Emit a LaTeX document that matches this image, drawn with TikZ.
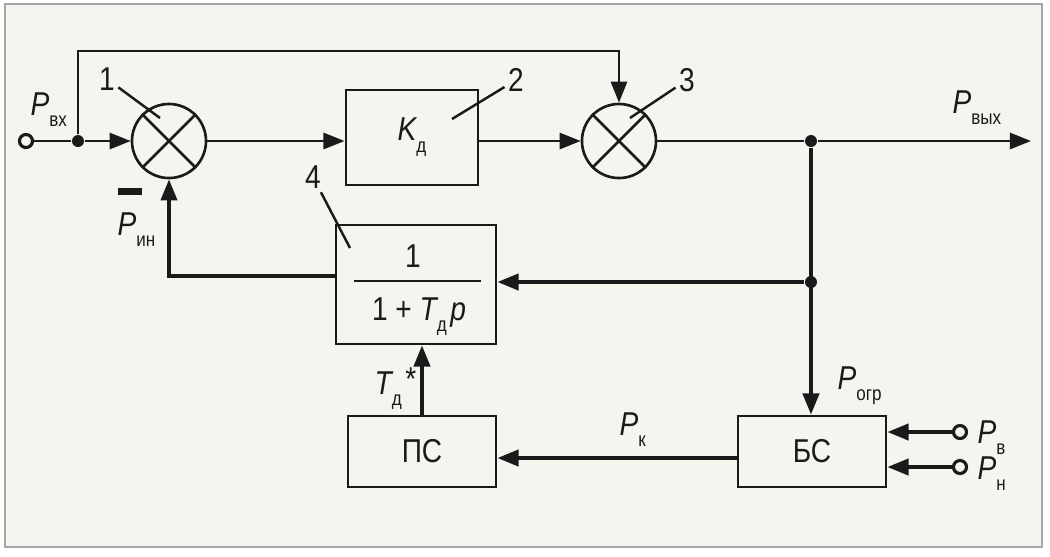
\documentclass[tikz,border=0pt]{standalone}
\usepackage{fontspec}
\setmainfont{Liberation Sans}[FakeStretch=0.85]
\usetikzlibrary{arrows.meta}

\definecolor{paper}{HTML}{F5F4EF}
\definecolor{framegray}{HTML}{A6A6A6}
\definecolor{ink}{HTML}{1A1A1A}

% signal name with a low subscript
\newcommand{\sgn}[2]{{\itshape #1}\raisebox{-3.4pt}{\fontsize{5.7}{6}\selectfont #2}}

\tikzset{
  blk/.style={draw, line width=0.8pt, inner sep=0pt},
  summ/.style={draw, circle, line width=0.75pt, minimum size=0.74cm, inner sep=0pt},
  arr/.style={-{Triangle[length=6pt,width=4.6pt]}, line width=0.72pt},
  thk/.style={line width=1pt},
  jdot/.style={circle, fill, inner sep=0pt, minimum size=0.12cm},
  port/.style={circle, draw, line width=0.9pt, fill=paper, inner sep=0pt, minimum size=0.13cm},
  lead/.style={line width=0.7pt, shorten <=1pt},
  lbl/.style={inner sep=0pt},
}

\begin{document}
\begin{tikzpicture}[x=0.01cm, y=-0.01cm, color=ink, font=\fontsize{9.4}{11}\selectfont]
  \useasboundingbox (0,0) rectangle (1050,556);
  \fill[white] (0,0) rectangle (1050,556);
  \draw[framegray, fill=paper, line width=0.6pt] (5,4) rectangle (1042,547);

  %%%%%%%%%%%%%The upper row%%%%%%%%%%%%%%%%%%%%%%
  \node[port] (pin) at (26,141) {};
  \node[jdot] (j1) at (78,141) {};
  \node[summ] (s1) at (169,141) {};
  \draw[line width=0.75pt] (s1.45) -- (s1.225) (s1.135) -- (s1.-45);
  \node[blk, minimum width=1.32cm, minimum height=0.95cm] (kd) at (412,137.5) {\sgn{K}{д}};
  \node[summ] (s3) at (619,141) {};
  \draw[line width=0.75pt] (s3.45) -- (s3.225) (s3.135) -- (s3.-45);
  \node[jdot] (j2) at (811,141) {};
  \coordinate (ctop) at (78,51);
  \coordinate (out) at (1031,141);

  \draw[line width=0.72pt] (pin) -- (j1);
  \draw[arr] (j1) -- (s1);
  \draw[arr] (j1) -- (ctop) -| (s3.north);
  \draw[arr] (s1.east) -- (s1.east -| kd.west);
  \draw[arr] (kd.east |- s3.west) -- (s3.west);
  \draw[line width=0.72pt] (s3.east) -- (j2);
  \draw[arr] (j2) -- (out);

  %%%%%%%%%%%%%The lower part%%%%%%%%%%%%%%%%%%%%%%
  \node[blk, minimum width=1.6cm, minimum height=1.19cm] (tf) at (416,284.5) {};
  \node[lbl, anchor=base] (num) at (413,267) {1};
  \draw[line width=0.7pt] (354,281) -- (481,281);
  \node[lbl, anchor=base] (den) at (419,320) {1 + \sgn{T}{д}\kern1pt{\itshape p}};
  \node[blk, minimum width=1.48cm, minimum height=0.71cm] (ps) at (422,451.5) {ПС};
  \node[blk, minimum width=1.48cm, minimum height=0.71cm] (bs) at (812,451.5) {БС};
  \node[jdot] (j3) at (811,282) {};
  \node[port] (pv) at (960,432) {};
  \node[port] (pn) at (960,467) {};

  \draw[arr, thk] (j2) -- (j2 |- bs.north);
  \draw[arr, thk] (j3) -- (j3 -| tf.east);
  \draw[arr, thk] ([yshift=2.4pt]tf.west) -| (s1.south);
  \draw[arr, thk] (ps.north) -- (ps.north |- tf.south);
  \draw[arr, thk] ([yshift=-1.85pt]bs.west) -- ([yshift=-1.85pt]ps.east);
  \draw[arr, thk] (pv) -- (pv -| bs.east);
  \draw[arr, thk] (pn) -- (pn -| bs.east);

  % minus sign at the summator
  \draw[line width=2pt] (118,191) -- (142,191);

  %%%%%%%%%%%%%Numbers and leaders%%%%%%%%%%%%%%%%%%%%%%
  \node[lbl] (n1) at (107,79) {1};
  \node[lbl] (n2) at (516,80) {2};
  \node[lbl] (n3) at (687,80) {3};
  \node[lbl] (n4) at (313,177) {4};
  \coordinate (e1) at (160,118);
  \coordinate (e2) at (452,119);
  \coordinate (e3) at (630,118);
  \coordinate (e4) at (350,248);
  \draw[lead] (n1) -- (e1);
  \draw[lead] (n2) -- (e2);
  \draw[lead] (n3) -- (e3);
  \draw[lead] (n4) -- (e4);

  %%%%%%%%%%%%%Signals%%%%%%%%%%%%%%%%%%%%%%
  \node[lbl, anchor=base west] (lvx) at (30,115) {\sgn{P}{вх}};
  \node[lbl, anchor=base west] (lvyx) at (952,113) {\sgn{P}{вых}};
  \node[lbl, anchor=base west] (lin) at (117,235) {\sgn{P}{ин}};
  \node[lbl, anchor=base west] (logr) at (837,389) {\sgn{P}{огр}};
  \node[lbl, anchor=base west] (lk) at (619,435) {\sgn{P}{к}};
  \node[lbl, anchor=base west] (lv) at (977,443) {\sgn{P}{в}};
  \node[lbl, anchor=base west] (ln) at (977,479) {\sgn{P}{н}};
  \node[lbl, anchor=base west] (ltd) at (374,394) {\sgn{T}{д}\kern1pt\raisebox{1pt}{*}};
\end{tikzpicture}
\end{document}
